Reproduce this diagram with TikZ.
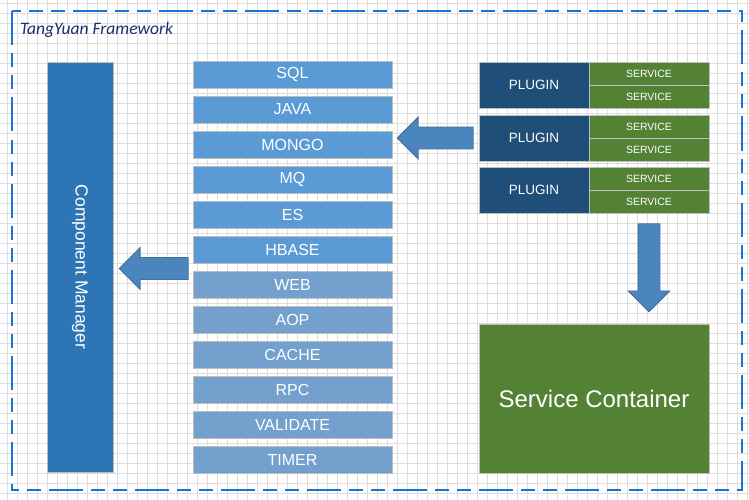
\documentclass[tikz,border=0pt]{standalone}
\usepackage{fontspec}
\setmainfont{Liberation Sans}
\newfontfamily\titlefont{Carlito}
\usetikzlibrary{shapes.arrows,positioning,calc}

\definecolor{gridgray}{RGB}{222,222,222}
\definecolor{boxedge}{RGB}{190,190,190}
\definecolor{mgrblue}{RGB}{46,117,182}
\definecolor{modblue}{RGB}{91,155,213}
\definecolor{modmuted}{RGB}{116,160,206}
\definecolor{arrowblue}{RGB}{74,134,189}
\definecolor{arrowedge}{RGB}{65,113,156}
\definecolor{plugnavy}{RGB}{31,78,121}
\definecolor{svcgreen}{RGB}{84,130,53}
\definecolor{framecol}{RGB}{22,116,212}
\definecolor{titleblue}{RGB}{31,45,107}

\tikzset{
  gridline/.style={draw=gridgray, line width=0.6pt},
  box/.style={rectangle, draw=boxedge, line width=0.8pt, text=white, inner sep=0pt},
  modbox/.style={box, minimum width=199pt, minimum height=27pt, font=\fontsize{16}{18}\selectfont},
  plugbox/.style={box, fill=plugnavy, minimum width=110pt, minimum height=46pt, font=\fontsize{13.5}{15}\selectfont},
  svcbox/.style={box, fill=svcgreen, minimum width=120pt, minimum height=23pt, font=\fontsize{10.5}{12}\selectfont},
  blockarrow/.style={single arrow, draw=arrowedge, fill=arrowblue, line width=0.8pt,
    inner xsep=0pt, inner ysep=10.5pt, single arrow head extend=10pt},
  downarrow/.style={blockarrow, shape border rotate=270, inner xsep=10.5pt, inner ysep=0pt},
  frameline/.style={draw=framecol, line width=2pt,
    dash pattern=on 34pt off 8pt on 14pt off 8pt on 14pt off 8pt}
}

\begin{document}
\begin{tikzpicture}[x=1pt,y=-1pt]
  \useasboundingbox (0,0) rectangle (749,500);
  \fill[white] (0,0) rectangle (749,500);

  % background grid
  \foreach \x in {7.5,17.5,...,747.5}
    \draw[gridline] (\x,0) -- (\x,500);
  \foreach \y in {3.5,13.5,...,493.5}
    \draw[gridline] (0,\y) -- (749,\y);

  % framework border
  \draw[frameline] (11.5,11.5) rectangle (741.5,490);
  \node[anchor=west, text=titleblue, font=\titlefont\itshape\fontsize{17.5}{19}\selectfont] (title) at (16.5,30) {TangYuan Framework};

  % component manager
  \node[box, fill=mgrblue, rotate=-90, minimum width=410pt, minimum height=66pt,
    font=\fontsize{17.5}{19}\selectfont] (cmgr) at (80,267) {Component Manager};

  % components
  \foreach \i/\nm/\txt/\col in {0/sql/SQL/modblue,1/java/JAVA/modblue,2/mongo/MONGO/modblue,
      3/mq/MQ/modblue,4/es/ES/modblue,5/hbase/HBASE/modblue,6/web/WEB/modmuted,
      7/aop/AOP/modmuted,8/cache/CACHE/modmuted,9/rpc/RPC/modmuted,
      10/validate/VALIDATE/modmuted,11/timer/TIMER/modmuted}
    \node[modbox, fill=\col] (\nm) at (292.5,74.5+35*\i) {\txt};

  % plugins and their services
  \foreach \k/\top in {1/62,2/115,3/167} {
    \node[plugbox] (plug\k) at (534,\top+23) {PLUGIN};
    \node[svcbox] (svc\k a) at (649,\top+11.5) {SERVICE};
    \node[svcbox] (svc\k b) at (649,\top+34.5) {SERVICE};
  }

  % service container
  \node[box, fill=svcgreen, minimum width=230pt, minimum height=149pt,
    font=\fontsize{24}{26}\selectfont] (container) at (594,398.5) {Service Container};

  % block arrows
  \node[blockarrow, shape border rotate=180, minimum height=76pt, anchor=tail] (toMongo)
    at ($(plug2.west)+(-5,0)$) {};
  \coordinate (gapHW) at ($(hbase.south west)!0.5!(web.north west)$);
  \node[blockarrow, shape border rotate=180, minimum height=69pt, anchor=tail] (toMgr)
    at ($(gapHW)+(-4,1.5)$) {};
  \node[downarrow, minimum height=88pt, anchor=tail] (toCont)
    at ($(svc3b.south)+(0,10)$) {};
\end{tikzpicture}
\end{document}
